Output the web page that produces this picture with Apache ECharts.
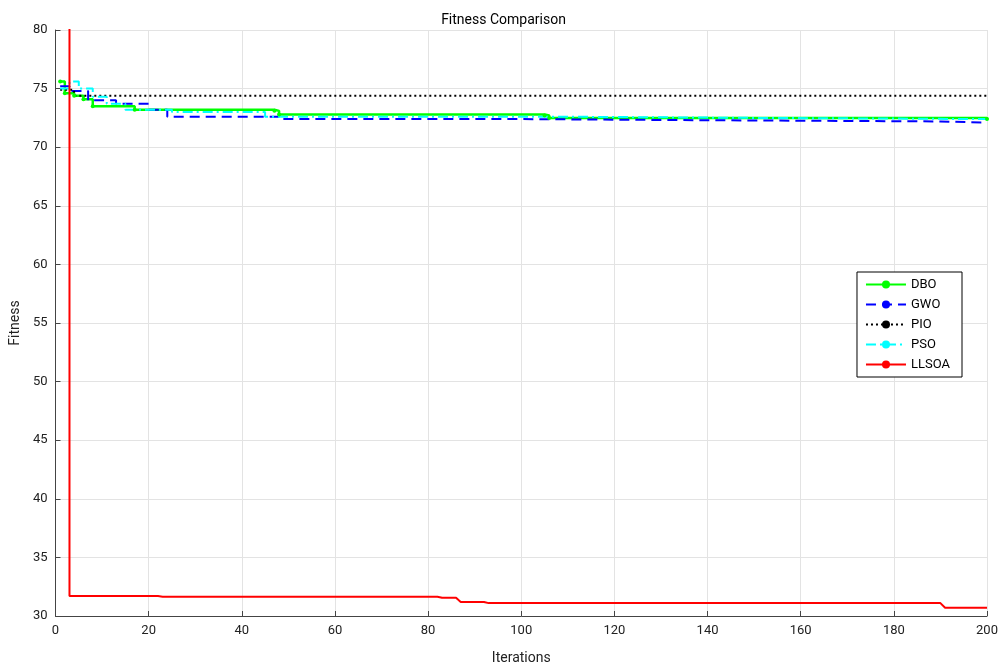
<!DOCTYPE html>
<html><head><meta charset="utf-8">
<script src="https://cdn.jsdelivr.net/npm/echarts@6/dist/echarts.min.js"></script>
<style>html,body{margin:0;padding:0;background:#fff}#c{width:1007px;height:672px}</style>
</head><body><div id="c"></div>
<script>
const seriesNames = ['DBO','GWO','PIO','PSO','LLSOA'];
const DBO = [[1,75.6],[2,74.6],[4,74.4],[6,74.1],[8,73.5],[17,73.2],[47,73.1],[48,72.8],[105,72.7],[106,72.5],[200,72.4]];
const GWO = [[1,75.2],[3,74.8],[7,74.0],[13,73.7],[20,73.2],[24,72.6],[48,72.4],[100,72.3],[140,72.2],[190,72.1],[200,72.1]];
const PIO = [[1,74.9],[4,74.4],[200,74.4]];
const PSO = [[1,75.0],[3,75.6],[5,75.0],[8,74.3],[11,73.7],[15,73.2],[25,73.0],[45,72.6],[110,72.5],[150,72.4],[200,72.4]];
const LLSOA = [[1,100],[3,100],[3,31.7],[22,31.7],[23,31.65],[82,31.65],[83,31.55],[86,31.55],[87,31.2],[92,31.2],[93,31.1],[190,31.1],[191,30.7],[200,30.7]];
const colors = ['#00ff00','#0000ff','#000000','#00ffff','#ff0000'];
const chart = echarts.init(document.getElementById('c'));
const font = 'Roboto';
chart.setOption({
  animation:false,
  title:{text:'Fitness Comparison',left:'center',top:8,textStyle:{fontFamily:font,fontSize:14,fontWeight:'normal',color:'#000'}},
  grid:{left:55,right:20,top:30,bottom:56},
  legend:{orient:'vertical',right:45,top:272,itemGap:7,itemWidth:40,itemHeight:10,
    backgroundColor:'#fff',borderColor:'#000',borderWidth:1,padding:[6,12,6,8],
    textStyle:{fontFamily:font,fontSize:13,color:'#000'},data:seriesNames},
  xAxis:{type:'value',min:0,max:200,interval:20,name:'Iterations',nameLocation:'middle',nameGap:35,
    nameTextStyle:{fontFamily:font,fontSize:14,color:'#222'},
    axisLine:{lineStyle:{color:'#444'}},axisTick:{inside:true,lineStyle:{color:'#444'}},
    axisLabel:{fontFamily:font,fontSize:13,color:'#222'},splitLine:{lineStyle:{color:'#e3e3e3'}}},
  yAxis:{type:'value',min:30,max:80,interval:5,name:'Fitness',nameLocation:'middle',nameGap:33,
    nameTextStyle:{fontFamily:font,fontSize:14,color:'#222'},
    axisLine:{show:true,lineStyle:{color:'#444'}},axisTick:{show:true,inside:true,lineStyle:{color:'#444'}},
    axisLabel:{fontFamily:font,fontSize:13,color:'#222'},splitLine:{lineStyle:{color:'#e3e3e3'}}},
  series:[
    {name:'DBO',type:'line',step:'end',data:DBO,symbol:'circle',symbolSize:4,showSymbol:true,
      itemStyle:{color:colors[0]},lineStyle:{color:colors[0],width:2.5}},
    {name:'GWO',type:'line',step:'end',data:GWO,symbol:'none',itemStyle:{color:colors[1]},
      lineStyle:{color:colors[1],width:2,type:[10,6]}},
    {name:'PIO',type:'line',step:'end',data:PIO,symbol:'none',itemStyle:{color:colors[2]},
      lineStyle:{color:colors[2],width:2,type:[2,3]}},
    {name:'PSO',type:'line',step:'end',data:PSO,symbol:'none',itemStyle:{color:colors[3]},
      lineStyle:{color:colors[3],width:2,type:[10,4,2,4]}},
    {name:'LLSOA',type:'line',data:LLSOA,symbol:'none',clip:true,itemStyle:{color:colors[4]},
      lineStyle:{color:colors[4],width:2}}
  ]
});
</script></body></html>
